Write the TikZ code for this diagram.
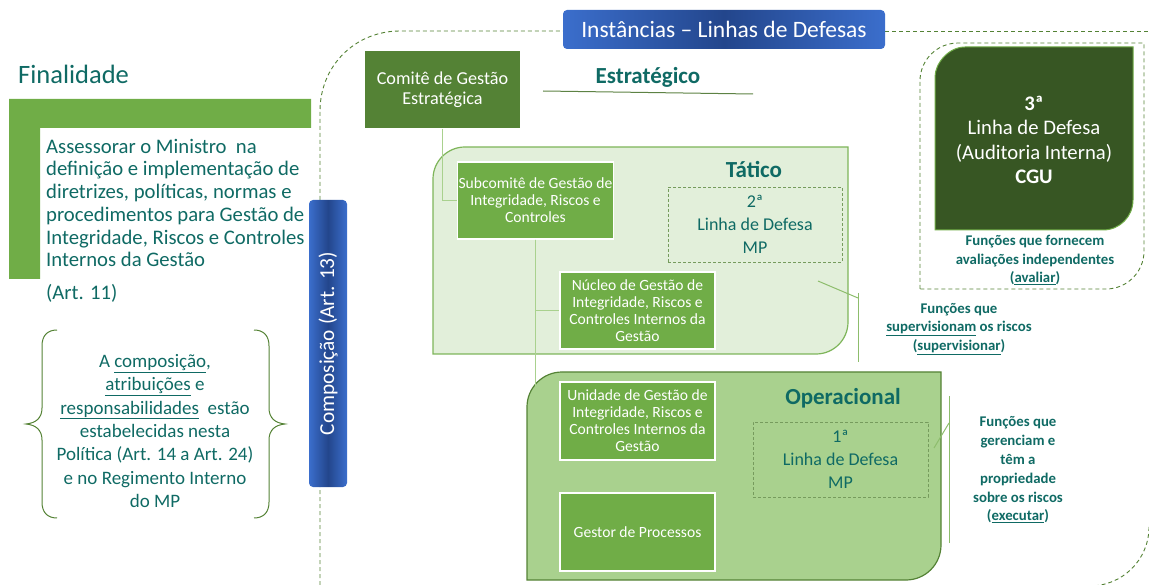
\documentclass[tikz,border=0pt]{standalone}
\usepackage{fontspec}
\setmainfont{Carlito}
\definecolor{verdeesc}{HTML}{548235}
\definecolor{verdemed}{HTML}{70AD47}
\definecolor{verdeclaro}{HTML}{A9D18E}
\definecolor{verdepalido}{HTML}{E2EFDA}
\definecolor{verdecgu}{HTML}{375623}
\definecolor{verdeagua}{HTML}{0F6A64}
\definecolor{azulclaro}{HTML}{3B6ECC}
\definecolor{azulesc}{HTML}{23468C}
\newcommand{\tam}[2]{\fontsize{#1}{#2}\selectfont}
\begin{document}
\begin{tikzpicture}[x=1pt,y=-1pt,
    caixa/.style={fill=verdemed,draw=white,line width=1.2pt,text=white,align=center,
                  minimum width=155pt,minimum height=77pt,inner sep=1pt,font=\tam{15.6}{17}},
    linhadef/.style={draw=verdeesc!80,dash pattern=on 3pt off 2pt,line width=0.8pt,text=verdeagua,
                  align=center,minimum width=174pt,minimum height=75pt,font=\tam{18}{23}},
    borda/.style={draw=verdeesc,dash pattern=on 4pt off 3pt,line width=0.9pt},
    conn/.style={draw=verdeclaro,line width=1.3pt},
    marca/.style={draw=verdemed!80,line width=1pt},
    nivel/.style={text=verdeagua,font=\bfseries\tam{23}{26}},
    funcao/.style={text=verdeagua,align=center,font=\bfseries\tam{14.8}{18.8}},
    azul/.style={left color=azulclaro,right color=azulclaro,middle color=azulesc,
                 rounded corners=4pt,text=white,inner sep=0pt}
                   ]

    \path[use as bounding box] (0,0) rectangle (1149,585);

    % contorno das instancias
    \draw[borda] (320,585) -- (320,111) .. controls (320,66) and (355,31) .. (400,31) -- (563,31);
    \draw[borda] (885,31) -- (1149,31);
    \draw[borda] (1149,527) .. controls (1149,560) and (1122,586) .. (1090,586);

    \node[azul,minimum width=322pt,minimum height=39pt,font=\tam{23.5}{26}](inst) at (724,29.5)
        {Instâncias -- Linhas de Defesas};

    % finalidade
    \node[anchor=west,text=verdeagua,font=\tam{26.5}{30},inner sep=0pt](titfin) at (18,74) {Finalidade};
    \fill[verdemed] (9,99) -- (311,99) -- (311,128) -- (40,128) -- (40,279) -- (9,279) -- cycle;
    \node[anchor=west,text=verdeagua,align=left,font=\tam{20.7}{22.7},inner sep=0pt](final) at (46,203)
        {Assessorar o Ministro\ \ na\\definição e implementação de\\diretrizes, políticas, normas e\\
         procedimentos para Gestão de\\Integridade, Riscos e Controles\\Internos da Gestão};
    \node[anchor=west,text=verdeagua,font=\tam{20.7}{22.7},inner sep=0pt](art11) at (46,293) {(Art. 11)};

    \draw[verdeesc,line width=1pt] (57,330) .. controls (47,330) and (42,336) .. (42,346) -- (42,408)
        .. controls (42,418) and (36,423) .. (26,424) .. controls (36,425) and (42,430) .. (42,440)
        -- (42,502) .. controls (42,512) and (47,518) .. (57,518);
    \draw[verdeesc,line width=1pt] (254,330) .. controls (264,330) and (269,336) .. (269,346) -- (269,408)
        .. controls (269,418) and (275,423) .. (285,424) .. controls (275,425) and (269,430) .. (269,440)
        -- (269,502) .. controls (269,512) and (264,518) .. (254,518);
    \node[text=verdeagua,align=center,font=\tam{19}{23.3}](compo) at (155,431)
        {A \underline{composição},\\\underline{atribuições} e\\\underline{responsabilidades}\ \ estão\\
         estabelecidas nesta\\Política (Art. 14 a Art. 24)\\e no Regimento Interno\\do MP};

    \node[azul,rotate=90,minimum width=287pt,minimum height=38pt,font=\tam{21.3}{24}](barra) at (328,343.5)
        {Composição (Art. 13)};

    % niveis
    \draw[verdemed!90,line width=1.2pt,fill=verdepalido] (433,354) -- (433,179)
        .. controls (433,161.3) and (447.3,147) .. (465,147) -- (848,147) -- (848,322)
        .. controls (848,339.7) and (833.7,354) .. (816,354) -- cycle;
    \draw[verdeesc,line width=1.2pt,fill=verdeclaro] (527,580) -- (527,407)
        .. controls (527,387.7) and (542.7,372) .. (562,372) -- (941,372) -- (941,545)
        .. controls (941,564.3) and (925.3,580) .. (906,580) -- cycle;

    \node[nivel](estr) at (648,77) {Estratégico};
    \draw[verdeesc!80!gray,line width=1pt] (543,91) -- (753,94);
    \node[nivel](tat) at (754,170) {Tático};
    \node[nivel](oper) at (843,398) {Operacional};

    \node[caixa,draw=none,fill=verdeesc,font=\tam{18.2}{20}](comite) at (442.5,89.5)
        {Comitê de Gestão\\Estratégica};
    \node[caixa](subcom) at (535.5,200.5) {Subcomitê de Gestão de\\Integridade, Riscos e\\Controles};
    \node[caixa](nucleo) at (637.5,310.5)
        {Núcleo de Gestão de\\Integridade, Riscos e\\Controles Internos da\\Gestão};
    \node[caixa,minimum height=78pt](unidade) at (637.5,421)
        {Unidade de Gestão de\\Integridade, Riscos e\\Controles Internos da\\Gestão};
    \node[caixa,minimum height=78pt](gestor) at (637.5,532) {Gestor de Processos};

    \path[conn] (comite.south) edge[-,to path={|- (\tikztotarget)}] (subcom.west)
    (subcom.south) edge[-,to path={|- (\tikztotarget)}] (nucleo.west)
    (subcom.south) edge[-,to path={|- (\tikztotarget)}] (unidade.west)
    (subcom.south) edge[-,to path={|- (\tikztotarget)}] (gestor.west);

    \node[linhadef](linha2) at (755,224.5) {2ª\\Linha de Defesa\\MP};
    \node[linhadef,minimum width=175pt](linha1) at (840.5,459.5) {1ª\\Linha de Defesa\\MP};

    % terceira linha
    \draw[borda] (920,289) -- (920,81) .. controls (920,60) and (937,43) .. (958,43) -- (1144,43)
        -- (1144,251) .. controls (1144,272) and (1127,289) .. (1106,289) -- cycle;
    \draw[verdemed,line width=1pt,fill=verdecgu] (935,230) -- (935,77)
        .. controls (935,63.6) and (948.4,47) .. (965,47) -- (1133,47) -- (1133,200)
        .. controls (1133,216.6) and (1119.6,230) .. (1103,230) -- cycle;
    \node[text=white,align=center,font=\tam{20.7}{24.3}](cgu) at (1034,140)
        {\textbf{3ª}\\Linha de Defesa\\(Auditoria Interna)\\\textbf{CGU}};

    \node[funcao](avaliar) at (1035,260) {Funções que fornecem\\avaliações independentes\\(\underline{avaliar})};
    \node[funcao](superv) at (959,329) {Funções que\\\underline{supervisionam} os riscos\\(\underline{supervisionar})};
    \node[funcao](execut) at (1018,470)
        {Funções que\\gerenciam e\\têm a\\propriedade\\sobre os riscos\\(\underline{executar})};

    \coordinate (s1) at (818,281);
    \coordinate (s2) at (858,298);
    \coordinate (s3) at (858,293);
    \coordinate (s4) at (858,362);
    \coordinate (e1) at (934,448);
    \coordinate (e2) at (949,423);
    \coordinate (e3) at (949,396);
    \coordinate (e4) at (949,543);
    \path[marca] (s1) edge[-] (s2) (s3) edge[-] (s4)
    (e1) edge[-] (e2) (e3) edge[-] (e4);

\end{tikzpicture}
\end{document}
